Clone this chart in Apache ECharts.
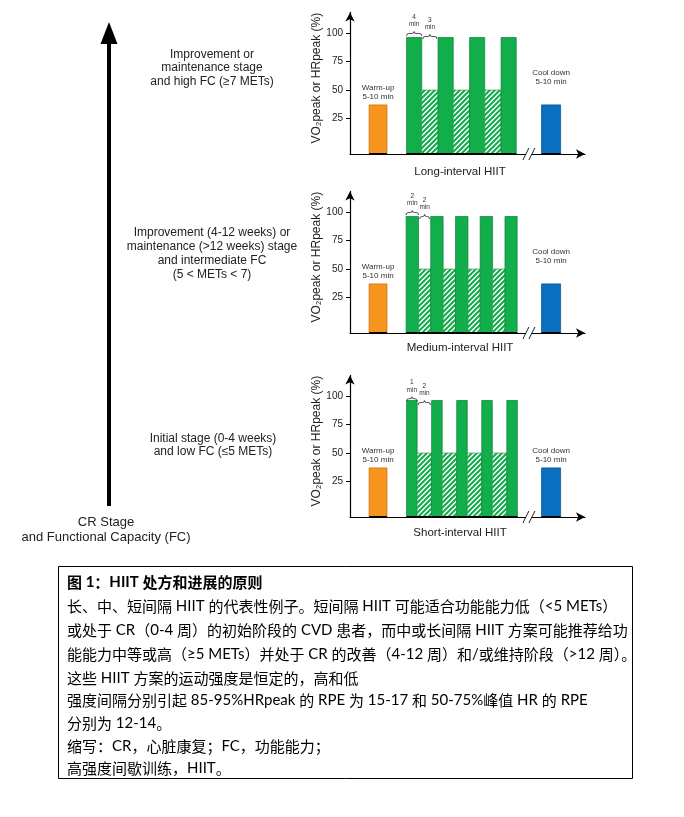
<!DOCTYPE html>
<html>
<head>
<meta charset="utf-8">
<script src="https://cdn.jsdelivr.net/npm/echarts@6/dist/echarts.min.js"></script>
<style>
html,body{margin:0;padding:0;background:#fff;}
#c{width:684px;height:817px;}
</style>
</head>
<body>
<div id="c"></div>
<script>
// ---------------- data ----------------
const panelTitles = ['Long-interval HIIT', 'Medium-interval HIIT', 'Short-interval HIIT'];
const yAxisName = 'VO\u2082peak or HRpeak (%)';
const yTickValues = [25, 50, 75, 100];
const warmUpSpan = [8.3, 16.1];
const coolDownSpan = [83.3, 91.6];
const warmUpLevel = 37;
const coolDownLevel = 37;
const workLevel = 96;
const restLevel = 50;
// boundaries of alternating work / recovery intervals (schematic time)
const longBounds = [24.6, 31.2, 38.3, 44.9, 52.0, 58.6, 65.7, 72.3];
const mediumBounds = [24.4, 29.8, 35.1, 40.5, 45.9, 51.3, 56.6, 62.0, 67.4, 72.7];
const shortBounds = [24.6, 29.2, 35.5, 40.1, 46.4, 51.0, 57.3, 61.9, 68.2, 72.8];
const longMinutes = ['4', '3'];
const mediumMinutes = ['2', '2'];
const shortMinutes = ['1', '2'];
const breakAt = 77.8;
const warmUpText = 'Warm-up\n5-10 min';
const coolDownText = 'Cool down\n5-10 min';
const stageTexts = [
  'Improvement or\nmaintenance stage\nand high FC (\u22657 METs)',
  'Improvement (4-12 weeks) or\nmaintenance (>12 weeks) stage\nand intermediate FC\n(5 < METs < 7)',
  'Initial stage (0-4 weeks)\nand low FC (\u22645 METs)'
];
const axisTitle = 'CR Stage\nand Functional Capacity (FC)';
const captionLines = [
  '图 1：HIIT 处方和进展的原则',
  '长、中、短间隔 HIIT 的代表性例子。短间隔 HIIT 可能适合功能能力低（<5 METs）',
  '或处于 CR（0-4 周）的初始阶段的 CVD 患者，而中或长间隔 HIIT 方案可能推荐给功',
  '能能力中等或高（≥5 METs）并处于 CR 的改善（4-12 周）和/或维持阶段（>12 周）。',
  '这些 HIIT 方案的运动强度是恒定的，高和低',
  '强度间隔分别引起 85-95%HRpeak 的 RPE 为 15-17 和 50-75%峰值 HR 的 RPE',
  '分别为 12-14。',
  '缩写：CR，心脏康复；FC，功能能力；',
  '高强度间歇训练，HIIT。'
];

// ---------------- layout ----------------
const Y_MIN = -6, Y_MAX = 118;
const X_MAX = 102.2;
const gridTops = [12.4, 191.4, 375.4];
const GRID_H = 141.6;
const titleY = [171.7, 348.3, 533.3];
const coolLift = [15, 15, 0];
const brace1Lift = [4, 4, 1.8];
const brace2Lift = [1, 0, -2];
const boundsList = [longBounds, mediumBounds, shortBounds];
const minutesList = [longMinutes, mediumMinutes, shortMinutes];
const FONT = '"Liberation Sans", Arial, sans-serif';
const GREEN = '#12AE4B';

// hatch pattern
const pc = document.createElement('canvas');
pc.width = 5; pc.height = 5;
const g2 = pc.getContext('2d');
g2.fillStyle = '#fff'; g2.fillRect(0, 0, 5, 5);
g2.strokeStyle = GREEN; g2.lineWidth = 2.1;
g2.beginPath();
g2.moveTo(0, 5); g2.lineTo(5, 0);
g2.moveTo(-2.5, 2.5); g2.lineTo(2.5, -2.5);
g2.moveTo(2.5, 7.5); g2.lineTo(7.5, 2.5);
g2.stroke();
const hatch = { image: pc, repeat: 'repeat' };

function segmentsFor(bounds) {
  const d = [[warmUpSpan[0], warmUpSpan[1], warmUpLevel, 0]];
  for (let k = 0; k < bounds.length - 1; k++) {
    const work = k % 2 === 0;
    d.push([bounds[k], bounds[k + 1], work ? workLevel : restLevel, work ? 1 : 2]);
  }
  d.push([coolDownSpan[0], coolDownSpan[1], coolDownLevel, 3]);
  return d;
}

function barRenderer(pi) {
  return function (params, api) {
    const x0 = api.value(0), x1 = api.value(1), v = api.value(2), kind = api.value(3);
    const b = api.coord([x0, Y_MIN]);
    const t = api.coord([x1, v]);
    const x = b[0], w = t[0] - b[0], y = t[1], h = b[1] - t[1];
    let style;
    if (kind === 0) style = { fill: '#F7941D', stroke: '#C8700F', lineWidth: 0.7 };
    else if (kind === 1) style = { fill: GREEN, stroke: '#0B7F35', lineWidth: 0.7 };
    else if (kind === 2) style = { fill: hatch, stroke: '#3C9A55', lineWidth: 0.7 };
    else style = { fill: '#0A6FBE', stroke: '#07508A', lineWidth: 0.7 };
    const children = [
      { type: 'rect', shape: { x: x, y: y, width: w, height: h }, style: style },
      { type: 'line', shape: { x1: x, y1: b[1], x2: x + w, y2: b[1] }, style: { stroke: '#000', lineWidth: 2 } }
    ];
    if (kind === 0 || kind === 3) {
      const lift = kind === 0 ? 3 : 3 + coolLift[pi];
      children.push({
        type: 'text',
        style: {
          text: kind === 0 ? warmUpText : coolDownText,
          x: x + w / 2, y: y - lift, align: 'center', verticalAlign: 'bottom',
          font: '8px ' + FONT, fill: '#333', lineHeight: 9.6
        }
      });
    }
    return { type: 'group', children: children };
  };
}

function braceRenderer(pi) {
  return function (params, api) {
    const i = params.dataIndex;
    const p1 = api.coord([api.value(0), workLevel]);
    const p2 = api.coord([api.value(1), workLevel]);
    const lift = i === 0 ? brace1Lift[pi] : brace2Lift[pi];
    const y = p1[1] - lift;
    const a = p1[0], c = p2[0], m = (a + c) / 2;
    const path = 'M' + a + ' ' + (y + 2.5) + ' Q' + a + ' ' + y + ' ' + (a + 2) + ' ' + y +
      ' L' + (m - 2) + ' ' + y + ' Q' + m + ' ' + y + ' ' + m + ' ' + (y - 2) +
      ' Q' + m + ' ' + y + ' ' + (m + 2) + ' ' + y + ' L' + (c - 2) + ' ' + y +
      ' Q' + c + ' ' + y + ' ' + c + ' ' + (y + 2.5);
    return {
      type: 'group',
      children: [
        { type: 'path', shape: { pathData: path }, style: { stroke: '#222', lineWidth: 0.8, fill: null } },
        { type: 'text', style: { text: minutesList[pi][i] + '\nmin', x: m, y: y - 5.2, align: 'center', verticalAlign: 'bottom', font: '6.5px ' + FONT, fill: '#333', lineHeight: 7.5 } }
      ]
    };
  };
}

function breakRenderer(params, api) {
  const p = api.coord([api.value(0), Y_MIN]);
  const cx = p[0], cy = p[1];
  return {
    type: 'group',
    children: [
      { type: 'rect', shape: { x: cx - 3, y: cy - 2, width: 6, height: 4 }, style: { fill: '#fff' } },
      { type: 'line', shape: { x1: cx - 6, y1: cy + 6, x2: cx, y2: cy - 6 }, style: { stroke: '#222', lineWidth: 1 } },
      { type: 'line', shape: { x1: cx, y1: cy + 6, x2: cx + 6, y2: cy - 6 }, style: { stroke: '#222', lineWidth: 1 } }
    ]
  };
}

const series = [];
boundsList.forEach((bounds, pi) => {
  series.push({
    type: 'custom', xAxisIndex: pi, yAxisIndex: pi, silent: true, z: 3,
    renderItem: barRenderer(pi), encode: { x: [0, 1], y: 2 },
    data: segmentsFor(bounds)
  });
  series.push({
    type: 'custom', xAxisIndex: pi, yAxisIndex: pi, silent: true, z: 4,
    renderItem: braceRenderer(pi), encode: { x: [0, 1] },
    data: [[bounds[0], bounds[1]], [bounds[1] + 0.5, bounds[2] - 0.5]]
  });
  series.push({
    type: 'custom', xAxisIndex: pi, yAxisIndex: pi, silent: true, z: 4,
    renderItem: breakRenderer, encode: { x: 0 },
    data: [[breakAt]]
  });
});

// caption rich text
const LAT = /^[A-Za-z0-9<>%\-\/\. ]+$/;
function richLine(str, bold) {
  return str.split(/([A-Za-z0-9<>%\-\/\. ]+|≥)/).filter(s => s && s.length)
    .map(s => {
      if (s === '≥') return '{g|≥}';
      return (LAT.test(s) ? (bold ? '{lb|' : '{l|') : (bold ? '{cb|' : '{c|')) + s + '}';
    }).join('');
}
const capRich = {
  c: { fontFamily: '"Noto Sans CJK SC"', fontSize: 15, color: '#000' },
  l: { fontFamily: 'Lato, "Noto Sans CJK SC"', fontSize: 15, color: '#1F3A70' },
  g: { fontFamily: 'Lato, "Noto Sans CJK SC"', fontSize: 15, color: '#000' },
  cb: { fontFamily: '"Noto Sans CJK SC"', fontSize: 15, color: '#000', fontWeight: 'bold' },
  lb: { fontFamily: 'Lato, "Noto Sans CJK SC"', fontSize: 15, color: '#000', fontWeight: 'bold' }
};
const capY = [582, 606, 630, 654, 678, 700, 723, 746, 768];

const graphic = [
  { type: 'rect', shape: { x: 107, y: 42, width: 4, height: 464 }, style: { fill: '#000' } },
  { type: 'polygon', shape: { points: [[100.5, 44], [117.5, 44], [109, 22]] }, style: { fill: '#000' } },
  { type: 'text', style: { text: stageTexts[0], x: 212, y: 68, align: 'center', verticalAlign: 'middle', font: '12px ' + FONT, fill: '#222', lineHeight: 13.7 } },
  { type: 'text', style: { text: stageTexts[1], x: 212, y: 254, align: 'center', verticalAlign: 'middle', font: '12px ' + FONT, fill: '#222', lineHeight: 13.9 } },
  { type: 'text', style: { text: stageTexts[2], x: 213, y: 445, align: 'center', verticalAlign: 'middle', font: '12px ' + FONT, fill: '#222', lineHeight: 13.4 } },
  { type: 'text', style: { text: axisTitle, x: 106, y: 530, align: 'center', verticalAlign: 'middle', font: '13px ' + FONT, fill: '#222', lineHeight: 15.4 } },
  { type: 'rect', shape: { x: 58.5, y: 566.5, width: 574, height: 212 }, style: { fill: 'none', stroke: '#000', lineWidth: 1 } }
];
panelTitles.forEach((t, i) => {
  graphic.push({ type: 'text', style: { text: t, x: 460, y: titleY[i], align: 'center', verticalAlign: 'middle', font: '11.5px ' + FONT, fill: '#222' } });
});
captionLines.forEach((ln, i) => {
  graphic.push({ type: 'text', style: { text: richLine(ln, i === 0), rich: capRich, x: 67, y: capY[i], align: 'left', verticalAlign: 'middle' } });
});

const option = {
  animation: false,
  backgroundColor: '#fff',
  grid: gridTops.map(t => ({ left: 350, top: t, width: 235, height: GRID_H })),
  xAxis: gridTops.map((t, i) => ({
    type: 'value', gridIndex: i, min: 0, max: X_MAX,
    axisLine: { show: true, onZero: false, lineStyle: { color: '#000', width: 1.2 }, symbol: ['none', 'arrow'], symbolSize: [7, 9] },
    axisTick: { show: false }, axisLabel: { show: false }, splitLine: { show: false }
  })),
  yAxis: gridTops.map((t, i) => ({
    type: 'value', gridIndex: i, min: Y_MIN, max: Y_MAX,
    axisLine: { show: true, onZero: false, lineStyle: { color: '#000', width: 1.2 }, symbol: ['none', 'arrow'], symbolSize: [7, 9] },
    axisTick: { show: true, length: 4, customValues: yTickValues, lineStyle: { color: '#000' } },
    axisLabel: { customValues: yTickValues, fontSize: 10, color: '#222', margin: 7, fontFamily: FONT },
    splitLine: { show: false },
    name: yAxisName, nameLocation: 'middle', nameGap: 27, nameRotate: 90,
    nameTextStyle: { fontSize: 12, color: '#222', fontFamily: FONT, padding: [0, 0, 0, 10] }
  })),
  series: series,
  graphic: graphic
};

const chart = echarts.init(document.getElementById('c'));
chart.setOption(option);
</script>
</body>
</html>
